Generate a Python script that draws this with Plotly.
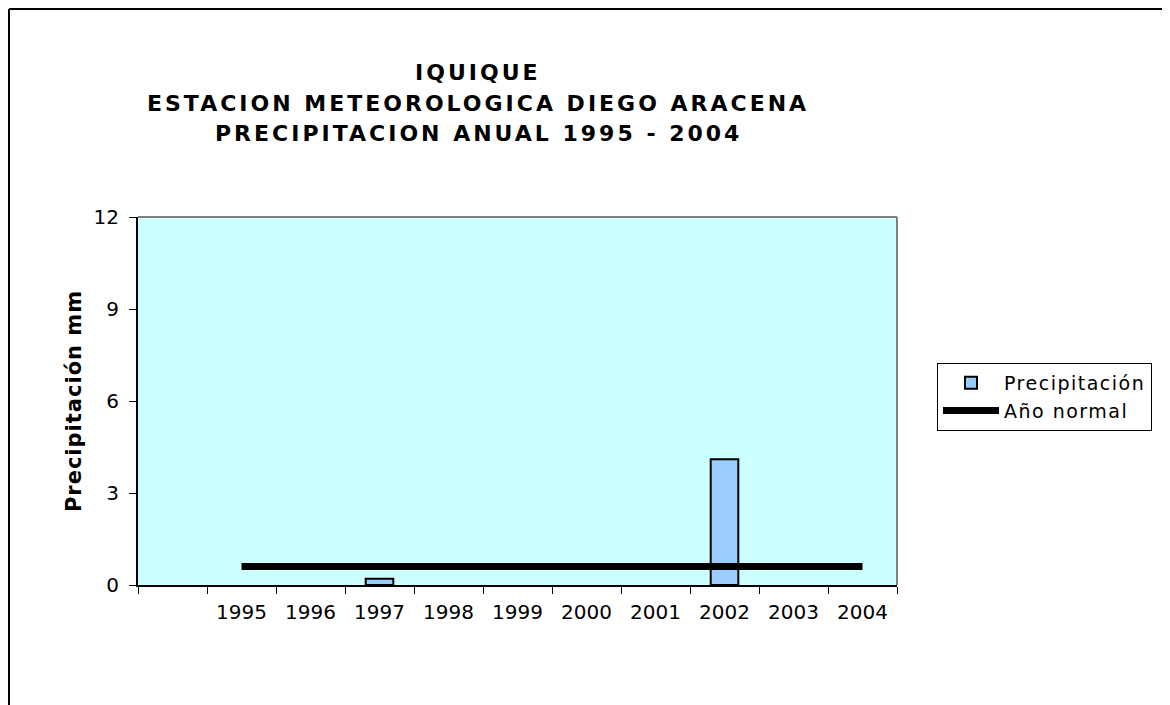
import plotly.graph_objects as go

categories = [" ", "1995", "1996", "1997", "1998", "1999", "2000", "2001", "2002", "2003", "2004"]
years = ["1995", "1996", "1997", "1998", "1999", "2000", "2001", "2002", "2003", "2004"]
precip = [0, 0, 0.2, 0, 0, 0, 0, 4.1, 0, 0]
normal = [0.6, 0.6, 0.6, 0.6, 0.6, 0.6, 0.6, 0.6, 0.6, 0.6]
yticks = [0, 3, 6, 9, 12]
title_lines = ["IQUIQUE", "ESTACION METEOROLOGICA DIEGO ARACENA", "PRECIPITACION ANUAL 1995 - 2004"]

FONT = "Verdana, DejaVu Sans, sans-serif"
W, H = 1162, 697
L, T = 130, 209
R = W - 889
B = H - 577
pw, ph = W - L - R, H - T - B

def sp(s, px):
    return f'<span style="letter-spacing:{px}px">{s}</span>'

px2x = lambda px: (px - L) / pw
py2y = lambda py: (H - B - py) / ph

BAR_FILL = "#99CCFF"

fig = go.Figure()
fig.add_trace(go.Bar(
    x=years, y=precip, showlegend=False,
    marker=dict(color=BAR_FILL,
                line=dict(color="black", width=[2 if v > 0 else 0 for v in precip])),
    width=0.4,
))
# legend entry for the bars
fig.add_trace(go.Bar(
    x=[None], y=[None], name=sp("Precipitación", 1.5),
    marker=dict(color=BAR_FILL, line=dict(color="black", width=2)),
))
fig.add_trace(go.Scatter(
    x=years, y=normal, name=sp("Año normal", 1.5), mode="lines",
    line=dict(color="black", width=7),
))

title_y = [64, 95, 125]
annotations = [dict(text="<b>" + sp(t, 3) + "</b>", xref="paper", yref="paper",
                    x=px2x(470), y=py2y(yy), xanchor="center", yanchor="middle",
                    showarrow=False, font=dict(size=22, family=FONT))
               for t, yy in zip(title_lines, title_y)]

fig.update_layout(
    width=W, height=H,
    margin=dict(l=L, r=R, t=T, b=B),
    paper_bgcolor="white", plot_bgcolor="#CCFFFF",
    font=dict(family=FONT, size=19, color="black"),
    showlegend=True,
    barmode="overlay",
    legend=dict(x=px2x(929), y=py2y(355), xanchor="left", yanchor="top",
                bordercolor="black", borderwidth=1, bgcolor="white",
                font=dict(size=19), tracegroupgap=0, itemwidth=56),
    annotations=annotations,
    shapes=[
        dict(type="line", xref="paper", yref="paper", x0=0, x1=1, y0=1, y1=1,
             line=dict(color="#808080", width=2)),
        dict(type="line", xref="paper", yref="paper", x0=1, x1=1, y0=0, y1=1,
             line=dict(color="#808080", width=2)),
        dict(type="line", xref="paper", yref="paper", x0=px2x(1), x1=px2x(W), y0=py2y(1), y1=py2y(1),
             line=dict(color="black", width=2)),
        dict(type="line", xref="paper", yref="paper", x0=px2x(1), x1=px2x(1), y0=py2y(1), y1=py2y(H),
             line=dict(color="black", width=2)),
    ],
)
fig.update_xaxes(type="category", categoryorder="array", categoryarray=categories,
                 range=[-0.5, len(categories) - 0.5], tickson="boundaries",
                 showline=True, linecolor="black", linewidth=2, ticks="outside",
                 ticklen=7, tickcolor="black", showgrid=False, zeroline=False,
                 ticklabelstandoff=8, tickfont=dict(size=20))
fig.update_yaxes(range=[0, 12], tickvals=yticks, showline=True, linecolor="black",
                 linewidth=2, ticks="outside", ticklen=7, tickcolor="black",
                 showgrid=False, zeroline=False, ticklabelstandoff=6,
                 tickfont=dict(size=20),
                 title=dict(text="<b>" + sp("Precipitación mm", 1) + "</b>", font=dict(size=21), standoff=6))

fig.write_html("out.html")
